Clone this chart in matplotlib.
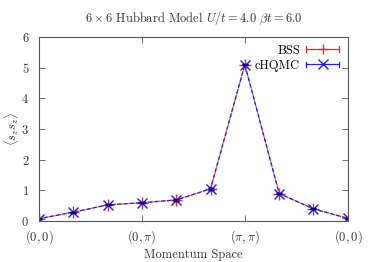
import numpy as np
import matplotlib
matplotlib.use('Agg')
import matplotlib.pyplot as plt
from matplotlib.legend_handler import HandlerBase
from matplotlib.lines import Line2D

plt.rcParams['font.family'] = 'serif'
plt.rcParams['font.serif'] = ['cmr10']
plt.rcParams['mathtext.fontset'] = 'cm'
plt.rcParams['axes.formatter.use_mathtext'] = True

# 动量空间路径上的点
k_index = np.arange(10)
bss = [0.08, 0.29, 0.53, 0.60, 0.69, 1.05, 5.10, 0.90, 0.40, 0.09]
chqmc = [0.08, 0.29, 0.53, 0.60, 0.69, 1.05, 5.10, 0.90, 0.40, 0.09]
bss_err = [0.02] * 10
chqmc_err = [0.02] * 10
tick_pos = [0, 3, 6, 9]
tick_labels = [r'$(0,0)$', r'$(0,\pi)$', r'$(\pi,\pi)$', r'$(0,0)$']


class GnuplotHandle(HandlerBase):
    """gnuplot 风格图例: 水平线 + 两端短竖线 + 中间标记"""
    def create_artists(self, legend, orig, xd, yd, w, h, fontsize, trans):
        c, m = orig.get_color(), orig.get_marker()
        y = h / 2 - yd
        x0, x1 = -xd, -xd + w
        line = Line2D([x0, x1], [y, y], color=c, lw=0.9, transform=trans)
        cap0 = Line2D([x0, x0], [y - 2, y + 2], color=c, lw=0.9, transform=trans)
        cap1 = Line2D([x1, x1], [y - 2, y + 2], color=c, lw=0.9, transform=trans)
        mk = Line2D([(x0 + x1) / 2], [y], color=c, marker=m, ms=7, mew=1.0,
                    ls='none', transform=trans)
        return [line, cap0, cap1, mk]


fig = plt.figure(figsize=(3.74, 2.62), dpi=100)
ax = fig.add_axes([0.104, 0.156, 0.826, 0.703])

l1, = ax.plot(k_index, bss, color='#d03030', ls=(0, (3, 2)), lw=0.9,
              marker='+', ms=8, mew=1.0, label='BSS')
ax.errorbar(k_index, bss, yerr=bss_err, color='#d03030', ls='none', capsize=2, elinewidth=0.8)
l2, = ax.plot(k_index, chqmc, color='#2020d8', ls=(1.5, (3, 2)), lw=0.9,
              marker='x', ms=7, mew=1.0, label='cHQMC')
ax.errorbar(k_index, chqmc, yerr=chqmc_err, color='#000090', ls='none', capsize=2, elinewidth=0.8)

ax.set_xlim(0, 9)
ax.set_ylim(0, 6)
ax.set_xticks(tick_pos)
ax.set_xticklabels(tick_labels)
ax.set_yticks(range(7))
ax.tick_params(direction='in', top=True, right=True, labelsize=9, length=4,
               width=0.6, colors='#555555', labelcolor='#333333')
ax.tick_params(axis='x', pad=5)
ax.tick_params(axis='y', pad=7)
for s in ax.spines.values():
    s.set_linewidth(0.8)
    s.set_color('#555555')

ax.set_xlabel('Momentum Space', fontsize=9, color='#333333', labelpad=2)
ax.set_ylabel(r'$\langle s_z s_z\rangle$', fontsize=9, color='#333333')
ax.yaxis.set_label_coords(-0.057, 0.5)
ax.set_title(r'$6\times6$ Hubbard Model $U/t=4.0$ $\beta t=6.0$', fontsize=9,
             color='#333333', pad=11)

ax.legend(handles=[l1, l2], loc='upper right', bbox_to_anchor=(0.995, 1.0),
          frameon=False, markerfirst=False, fontsize=9, handlelength=2.6,
          handletextpad=0.5, borderaxespad=0.3, borderpad=0.3, labelspacing=0.25,
          handler_map={Line2D: GnuplotHandle()})

fig.savefig('out.png', dpi=100)
plt.close(fig)
